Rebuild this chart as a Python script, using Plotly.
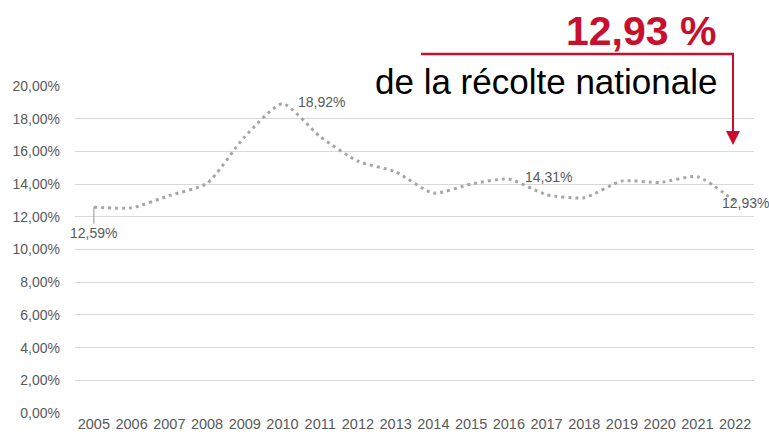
import plotly.graph_objects as go

years = list(range(2005, 2023))
share = [12.59, 12.55, 13.3, 14.05, 16.9, 18.92, 16.9, 15.4, 14.75, 13.45,
         14.0, 14.31, 13.35, 13.17, 14.19, 14.1, 14.45, 12.93]
y_ticks = [0, 2, 4, 6, 8, 10, 12, 14, 16, 18, 20]
y_tick_labels = [f"{v:.2f}".replace(".", ",") + "%" for v in y_ticks]
labelled = {2005: "12,59%", 2010: "18,92%", 2016: "14,31%", 2022: "12,93%"}

W, H = 769, 439
L, R, T, B = 75, 15, 86, 26
PW, PH = W - L - R, H - T - B

def px(x):
    return (x - L) / PW

def py(y):
    return (H - B - y) / PH

RED = "#C8102E"
GRAY = "#595959"

fig = go.Figure()
fig.add_trace(go.Scatter(
    x=years, y=share, mode="lines",
    line=dict(color="#A6A6A6", width=3, dash="3px,4px", shape="spline", smoothing=0.6),
    hoverinfo="skip", showlegend=False,
))

ann = []
lab_font = dict(family="Liberation Sans, Arial", size=14, color=GRAY)
for yr, txt in labelled.items():
    v = share[years.index(yr)]
    if yr == 2005:
        ann.append(dict(x=yr, y=v, xref="x", yref="y", text=txt, showarrow=True,
                        arrowhead=0, arrowwidth=1.2, arrowcolor="#A6A6A6",
                        ax=0, ay=26, font=lab_font))
    elif yr == 2022:
        ann.append(dict(x=yr, y=v, xref="x", yref="y", text=txt, showarrow=False,
                        xanchor="left", xshift=-15, yshift=-1, font=lab_font))
    else:
        ann.append(dict(x=yr, y=v, xref="x", yref="y", text=txt, showarrow=False,
                        xanchor="left", xshift=14, yshift=2, font=lab_font))

ann.append(dict(x=px(718), y=py(31), xref="paper", yref="paper", text="<b>12,93 %</b>",
                showarrow=False, xanchor="right", yanchor="middle",
                font=dict(family="Liberation Sans, Arial", size=41, color=RED)))
ann.append(dict(x=px(719), y=py(81), xref="paper", yref="paper", text="de la récolte nationale",
                showarrow=False, xanchor="right", yanchor="middle",
                font=dict(family="Liberation Sans, Arial", size=35, color="#000000")))
# red arrow
ann.append(dict(x=px(733), y=py(145), xref="paper", yref="paper", text="",
                showarrow=True, arrowhead=2, arrowsize=1.4, arrowwidth=2, arrowcolor=RED,
                axref="pixel", ayref="pixel", ax=0, ay=-92))

shapes = [dict(type="line", xref="paper", yref="paper",
               x0=px(421), x1=px(734), y0=py(54), y1=py(54),
               line=dict(color=RED, width=2.5))]

fig.update_layout(
    width=W, height=H,
    margin=dict(l=L, r=R, t=T, b=B),
    paper_bgcolor="white", plot_bgcolor="white",
    annotations=ann, shapes=shapes,
    xaxis=dict(range=[2004.5, 2022.5], tickvals=years, ticktext=[str(y) for y in years],
               showgrid=False, zeroline=False, showline=False, ticks="", automargin=False,
               tickfont=dict(family="Liberation Sans, Arial", size=14.5, color=GRAY)),
    yaxis=dict(range=[0, 20], tickvals=y_ticks, ticktext=y_tick_labels,
               showgrid=True, gridcolor="#D9D9D9", gridwidth=1, zeroline=False,
               ticks="", ticklabelstandoff=14, automargin=False,
               tickfont=dict(family="Liberation Sans, Arial", size=14, color=GRAY)),
)

fig.write_html("out.html", config={"displayModeBar": False},
               post_script="document.body.style.margin='0';document.body.style.overflow='hidden';")
